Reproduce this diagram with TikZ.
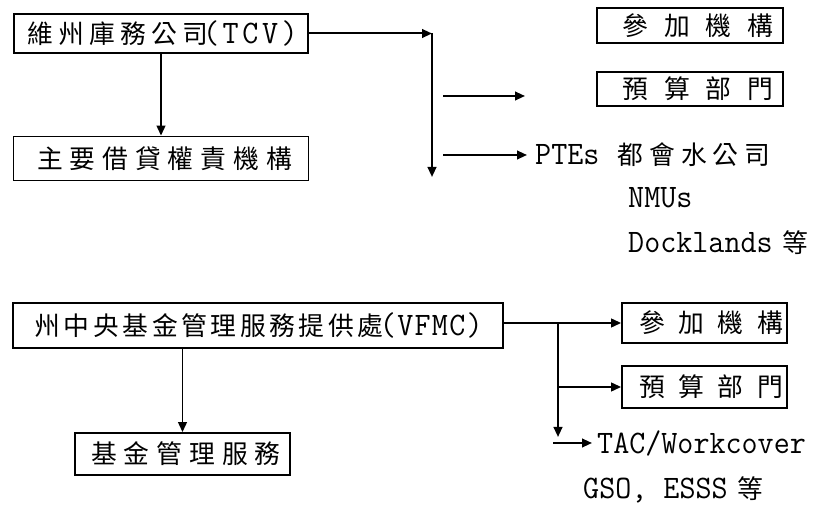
\documentclass[tikz,border=0pt]{standalone}
\usepackage{fontspec}
\newfontfamily\cjk{Noto Sans CJK TC}
\newfontfamily\lat[FakeStretch=0.95]{Latin Modern Mono}
\usetikzlibrary{arrows.meta}
\newcommand\zh[2]{{\cjk\addfontfeatures{LetterSpace=#1}#2\kern-\dimexpr #1em/100\relax}}
\newcommand\en[2]{{\fontsize{28}{32}\lat\addfontfeatures{LetterSpace=#1}#2\kern-\dimexpr #1em/100\relax}}

\begin{document}
\begin{tikzpicture}[
  box/.style={draw=black,line width=1.5pt,inner sep=0pt,align=center,font=\fontsize{22}{26}\selectfont},
  txt/.style={inner sep=0pt,anchor=west,font=\fontsize{22}{26}\selectfont},
  link/.style={line width=1.7pt,-{Triangle[length=0.3cm,width=0.26cm]}}]
\useasboundingbox (0,0) rectangle (24.57,15.42);

% upper part
\node[box,minimum width=8.82cm,minimum height=1.17cm] (tcv) at (4.83,14.415) {\zh{20}{維州庫務公司}\en{11}{(TCV)}};
\node[box,minimum width=8.85cm,minimum height=1.32cm] (lender) at (4.83,10.665) {\zh{27}{主要借貸權責機構}};
\node[box,minimum width=5.58cm,minimum height=1.05cm] (member1) at (20.7,14.655) {\zh{62}{參加機構}};
\node[box,minimum width=5.58cm,minimum height=1.02cm] (budget1) at (20.7,12.75) {\zh{62}{預算部門}};
\node[txt] (pte) at (16.05,10.77) {\en{0}{PTEs}\hspace{0.55cm}\zh{23}{都會水公司}};
\node[txt] (nmu) at (18.84,9.48) {\en{0}{NMUs}};
\node[txt] (dock) at (18.84,8.13) {\en{0}{Docklands}\hspace{0.3cm}\zh{0}{等}};
\coordinate (corner1) at (12.96,14.415);
\coordinate (end1) at (12.96,10.11);
\coordinate (a1s) at (13.29,12.54);
\coordinate (a1e) at (15.75,12.54);
\coordinate (a2s) at (13.29,10.77);

\draw[link] (tcv) -- (lender);
\draw[link] (tcv.east) -- (corner1);
\draw[link] (corner1) -- (end1);
\draw[link] (a1s) -- (a1e);
\draw[link] (a2s) -- ([xshift=-0.24cm]pte.west);

% lower part
\node[box,minimum width=14.7cm,minimum height=1.35cm] (vfmc) at (7.74,5.655) {\zh{14}{州中央基金管理服務提供處}\en{4}{(VFMC)}};
\node[box,minimum width=6.45cm,minimum height=1.26cm] (fund) at (5.475,1.8) {\zh{27}{基金管理服務}};
\node[box,minimum width=4.95cm,minimum height=1.2cm] (member2) at (21.135,5.73) {\zh{52}{參加機構}};
\node[box,minimum width=4.95cm,minimum height=1.26cm] (budget2) at (21.135,3.81) {\zh{52}{預算部門}};
\node[txt] (tac) at (17.91,2.13) {\en{0}{TAC/Workcover}};
\node[txt] (gso) at (17.49,0.72) {\en{0}{GSO,\ ESSS}\hspace{0.3cm}\zh{0}{等}};
\coordinate (fork2) at (16.74,5.73);
\coordinate (end2) at (16.74,2.31);
\coordinate (mid2) at (16.74,3.81);
\coordinate (a3s) at (16.59,2.13);

\draw[link] (vfmc.south -| fund.north) -- (fund.north);
\draw[link] (vfmc.east |- member2.west) -- (member2.west);
\draw[link] (fork2) -- (end2);
\draw[link] (mid2) -- (budget2.west);
\draw[link] (a3s) -- ([xshift=-0.15cm]tac.west);

\end{tikzpicture}
\end{document}
